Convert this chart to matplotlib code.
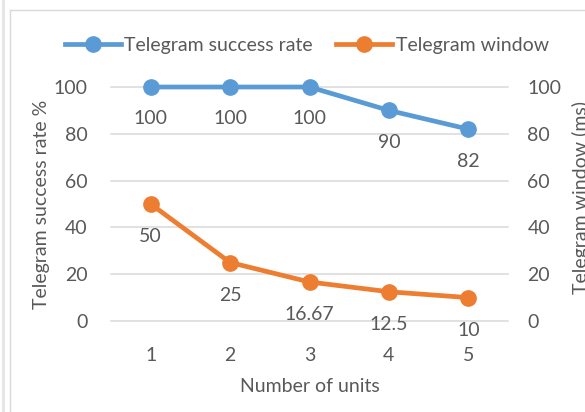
import matplotlib
matplotlib.use("Agg")
import matplotlib.pyplot as plt
from matplotlib.lines import Line2D

units = [1, 2, 3, 4, 5]
success_rate = [100, 100, 100, 90, 82]
window_ms = [50, 25, 16.67, 12.5, 10]
success_labels = ["100", "100", "100", "90", "82"]
window_labels = ["50", "25", "16.67", "12.5", "10"]
yticks = [0, 20, 40, 60, 80, 100]

BLUE = "#5b9bd5"
ORANGE = "#ed7d31"
TXT = "#595959"
GRID = "#d9d9d9"
FONT = "Lato"
FS = 14

plt.rcParams["font.family"] = [FONT, "DejaVu Sans"]

W, H = 585, 412
fig = plt.figure(figsize=(W / 100, H / 100), dpi=100)

# Chart frame lines
fig.add_artist(Line2D([3 / W, 3 / W], [0, 1], color="#e6e6e6", lw=2.2, transform=fig.transFigure))
fig.add_artist(Line2D([9.5 / W, 9.5 / W], [0, 1 - 9.5 / H], color="#d9d9d9", lw=1.0, transform=fig.transFigure))
fig.add_artist(Line2D([9.5 / W, 1], [1 - 9.5 / H, 1 - 9.5 / H], color="#d9d9d9", lw=1.0, transform=fig.transFigure))

left, right = 111 / W, 508 / W
bottom, top = 1 - 321 / H, 1 - 87 / H
ax = fig.add_axes([left, bottom, right - left, top - bottom])
ax2 = ax.twinx()

for a in (ax, ax2):
    a.set_ylim(0, 100)
    a.set_xlim(0.5, 5.5)
    for s in a.spines.values():
        s.set_visible(False)
    a.set_yticks(yticks)
    a.tick_params(length=0, labelsize=FS, labelcolor=TXT)
    a.set_facecolor("none")

ax.tick_params(axis="y", pad=17)
ax2.tick_params(axis="y", pad=14)
ax.set_xticks(units)
ax.tick_params(axis="x", pad=19)
for t in yticks:
    ax.axhline(t, color=GRID, lw=1.1, zorder=0, clip_on=False)

ax.plot(units, success_rate, color=BLUE, lw=3.4, marker="o", ms=11, clip_on=False, zorder=3,
        label="Telegram success rate")
ax2.plot(units, window_ms, color=ORANGE, lw=3.4, marker="o", ms=11, clip_on=False, zorder=3,
         label="Telegram window")

for x, y, s in zip(units, success_rate, success_labels):
    ax.annotate(s, (x, y), xytext=(0, -32), textcoords="offset pixels", ha="center", va="center",
                fontsize=FS, color=TXT)
for x, y, s in zip(units, window_ms, window_labels):
    ax2.annotate(s, (x, y), xytext=(0, -33), textcoords="offset pixels", ha="center", va="center",
                 fontsize=FS, color=TXT)

fig.text(42 / W, 1 - 204 / H, "Telegram success rate %", rotation=90, ha="center", va="center",
         fontsize=FS, color=TXT)
fig.text(581 / W, 1 - 198 / H, "Telegram window (ms)", rotation=90, ha="center", va="center",
         fontsize=FS, color=TXT)
fig.text(310 / W, 1 - 386 / H, "Number of units", ha="center", va="center", fontsize=FS, color=TXT)

handles = [Line2D([], [], color=BLUE, lw=3.4, marker="o", ms=11),
           Line2D([], [], color=ORANGE, lw=3.4, marker="o", ms=11)]
fig.legend(handles, ["Telegram success rate", "Telegram window"], loc="center",
           bbox_to_anchor=(307 / W, 1 - 45 / H), ncol=2, frameon=False, fontsize=FS,
           labelcolor=TXT, handlelength=2.85, handletextpad=0.2, columnspacing=1.2)

fig.savefig("out.png", dpi=100)
